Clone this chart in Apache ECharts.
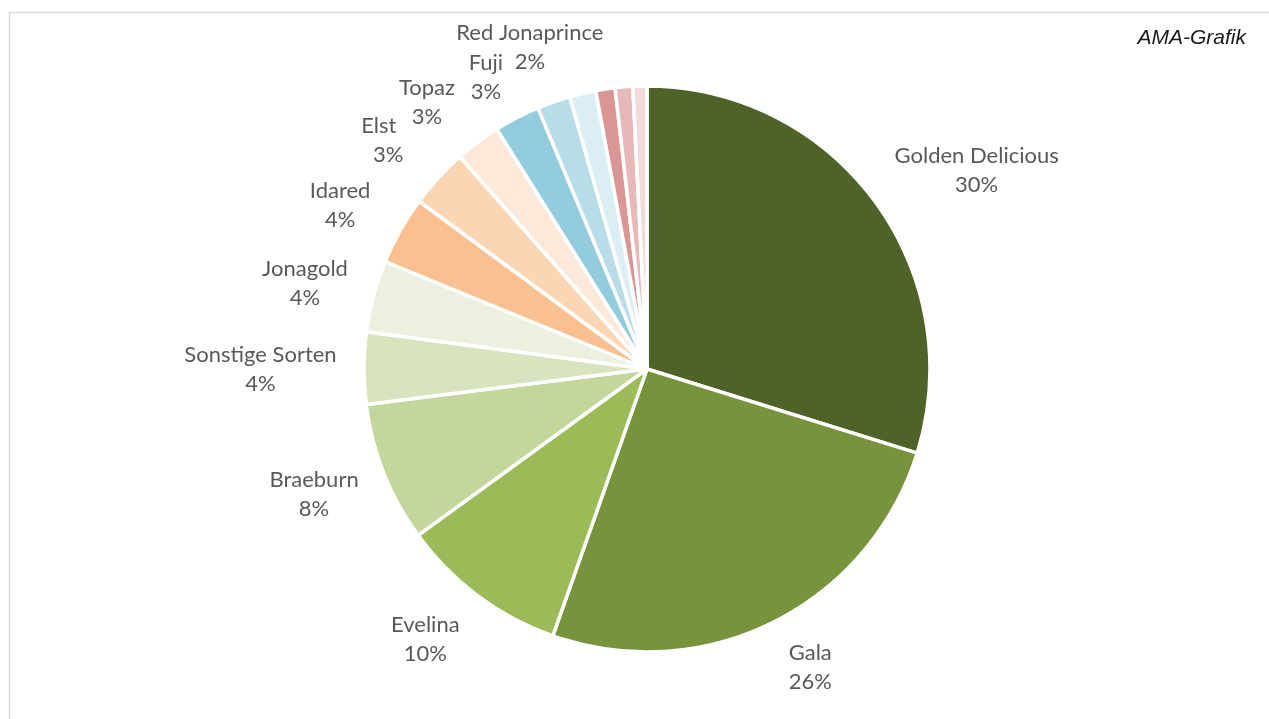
<!DOCTYPE html>
<html>
<head>
<meta charset="utf-8">
<script src="https://cdn.jsdelivr.net/npm/echarts@6/dist/echarts.min.js"></script>
<style>
html,body{margin:0;padding:0;background:#fff;}
#c{width:1269px;height:719px;}
</style>
</head>
<body>
<div id="c"></div>
<script>
// data
const categories = ["Golden Delicious","Gala","Evelina","Braeburn","Sonstige Sorten","Jonagold","Idared","Elstar","Topaz","Fuji","Red Jonaprince","Sorte 12","Sorte 13","Sorte 14","Sorte 15"];
const shares = [29.8,25.6,9.6,8.0,4.1,4.1,3.9,3.4,2.6,2.6,1.9,1.5,1.1,1.0,0.8];
const showLabel = [true,true,true,true,true,true,true,true,true,true,true,false,false,false,false];

// styles / layout (kept separate from the data)
const colors = ["#4f6228","#77933c","#9bbb59","#c3d69b","#d7e4bd","#ebf1de","#fac090","#fcd5b5","#fde9d9","#93cddd","#b7dee8","#dbeef3","#d99694","#e6b9b8","#f2dcdb"];
const labelAngleDeg = [58.9,151.3,219.3,249.4,270,284.1,298.0,311.4,320.5,331.1,340.0,0,0,0,0];
const labelRadius   = [385,340,350,355.7,386.5,352.6,347.6,345,346,333.4,342.6,0,0,0,0];
const CX = 647, CY = 369, R = 283;

const chart = echarts.init(document.getElementById('c'));
chart.setOption({
  animation:false,
  backgroundColor:'#fff',
  graphic:[
    {type:'polyline', shape:{points:[[9.5,800],[9.5,12.5],[1300,12.5]]}, style:{stroke:'#d9d9d9', lineWidth:1.5, fill:null}},
    {type:'text', x:1246, y:38, style:{text:'AMA-Grafik', font:'italic 21px "Liberation Sans", Arial, sans-serif', fill:'#1a1a1a', align:'right', verticalAlign:'middle'}}
  ],
  series:[{
    type:'pie',
    center:[CX, CY],
    radius:[0, R],
    startAngle:90,
    clockwise:true,
    avoidLabelOverlap:false,
    itemStyle:{borderColor:'#fff', borderWidth:3.5},
    label:{
      show:true, position:'outside',
      fontFamily:'Lato, "Open Sans", sans-serif', fontSize:22, color:'#595959',
      lineHeight:29,
      formatter: p => p.name + '\n' + Math.round(p.percent) + '%'
    },
    labelLine:{show:false},
    labelLayout: function(p){
      const i = p.dataIndex;
      const a = labelAngleDeg[i]*Math.PI/180, d = labelRadius[i];
      return {x: CX + d*Math.sin(a), y: CY - d*Math.cos(a), align:'center', verticalAlign:'middle'};
    },
    emphasis:{disabled:true},
    data: categories.map((n,i)=>{
      const lab = {show:showLabel[i]};
      if (n === 'Topaz') { lab.backgroundColor = '#fff'; lab.padding = [4,3]; }
      return {name:n, value:shares[i], itemStyle:{color:colors[i]}, label:lab};
    })
  }]
});
</script>
</body>
</html>
